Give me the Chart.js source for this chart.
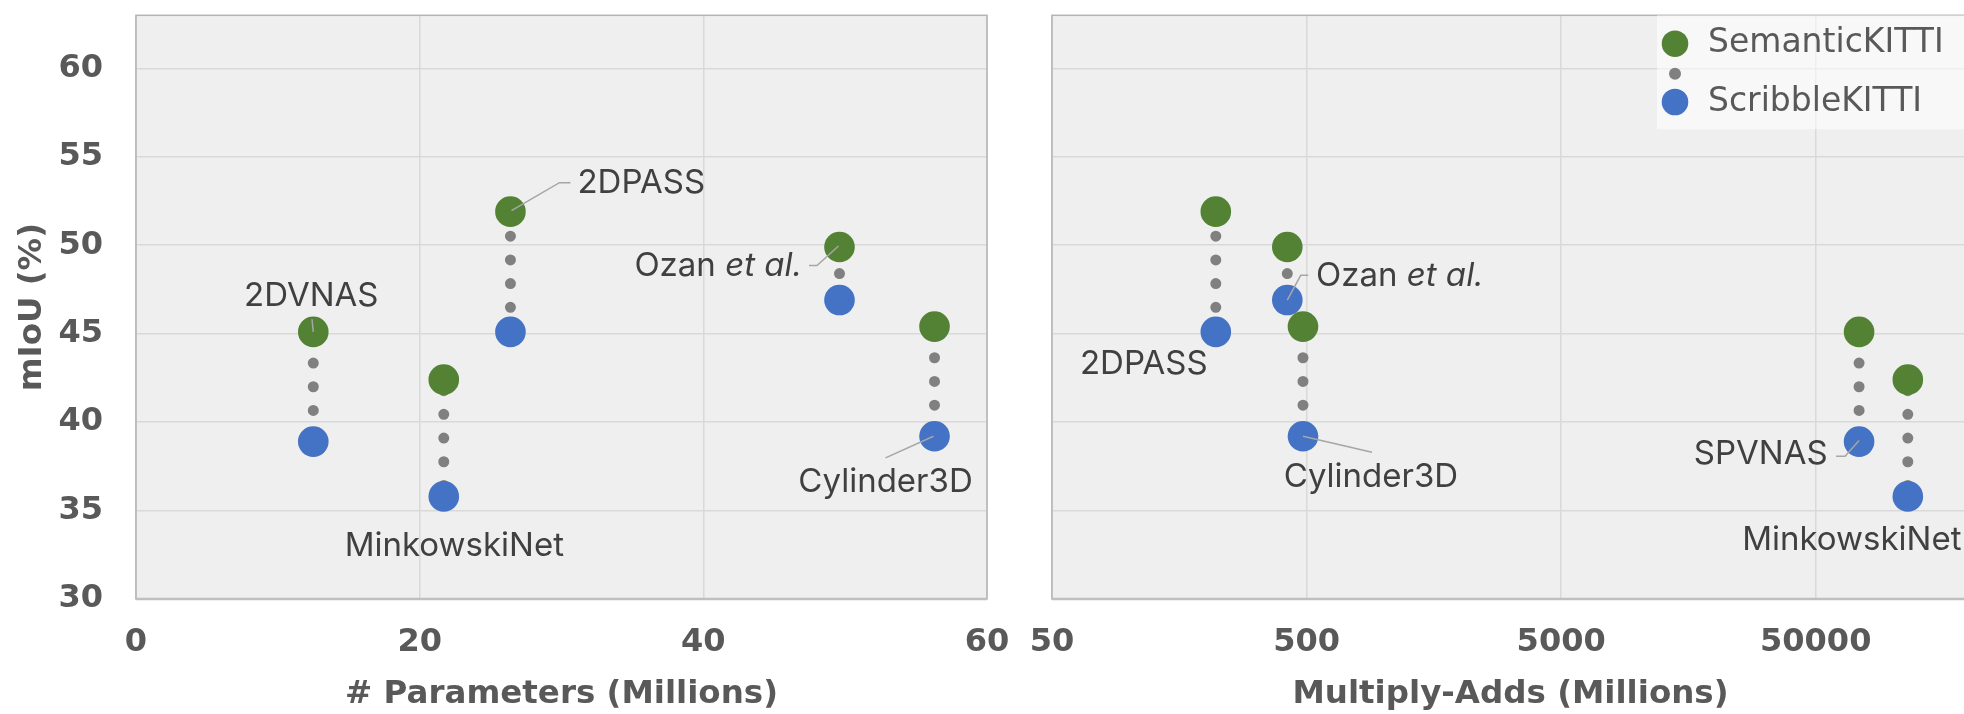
<!DOCTYPE html>
<html>
<head>
<meta charset="utf-8">
<script src="https://cdn.jsdelivr.net/npm/chart.js@4.4.1/dist/chart.umd.min.js"></script>
<style>
  html, body { margin: 0; padding: 0; background: #fff; overflow: hidden; }
  #paramsChart { position: absolute; left: 0; top: 0; }
  #macsChart { position: absolute; left: 1010px; top: 0; }
</style>
</head>
<body>
<canvas id="paramsChart" width="1010" height="714"></canvas>
<canvas id="macsChart" width="980" height="714"></canvas>
<script>
// values
const models = ['SPVNAS', 'MinkowskiNet', '2DPASS', 'Ozan et al.', 'Cylinder3D'];
const paramNames = ['2DVNAS', 'MinkowskiNet', '2DPASS', 'Ozan et al.', 'Cylinder3D'];
const params = [12.5, 21.7, 26.4, 49.6, 56.3];          // millions
const macs = [74000, 115000, 220, 420, 484];             // millions
const semanticMiou = [45.1, 42.4, 51.9, 49.9, 45.4];
const scribbleMiou = [38.9, 35.8, 45.1, 46.9, 39.2];
const paramTicks = [0, 20, 40, 60];
const macTicks = [50, 500, 5000, 50000];
const miouTicks = [30, 35, 40, 45, 50, 55, 60];

const GREEN = '#548235';
const BLUE = '#4472c4';
const DOT = '#808080';
const GREY_TEXT = '#595959';
const NOTE_TEXT = '#404040';
const GRID = '#d9d9d9';
const DOT_STEP = 23.7;

const tickFont = { family: 'DejaVu Sans', size: 32, weight: 'bold' };
const titleFont = { family: 'DejaVu Sans', size: 32.5, weight: 'bold' };

// spread the dots evenly between the two markers
function centreDots(ctx) {
  const y = ctx.chart.scales.y;
  const d = ctx.dataset.data;
  const span = Math.abs(y.getPixelForValue(d[1].y) - y.getPixelForValue(d[0].y));
  return -(span % DOT_STEP) / 2;
}

function buildDatasets(xs) {
  const sets = [
    { label: 'SemanticKITTI', data: xs.map((x, i) => ({ x: x, y: semanticMiou[i] })),
      backgroundColor: GREEN, pointRadius: 15.3, pointHoverRadius: 15.3, pointBorderWidth: 0, order: 0 },
    { label: 'ScribbleKITTI', data: xs.map((x, i) => ({ x: x, y: scribbleMiou[i] })),
      backgroundColor: BLUE, pointRadius: 15.3, pointHoverRadius: 15.3, pointBorderWidth: 0, order: 0 }
  ];
  xs.forEach((x, i) => {
    sets.push({
      label: models[i],
      data: [{ x: x, y: semanticMiou[i] }, { x: x, y: scribbleMiou[i] }],
      showLine: true,
      pointRadius: 0,
      borderColor: DOT,
      borderWidth: 11,
      borderCapStyle: 'round',
      borderDash: [0, DOT_STEP],
      borderDashOffset: centreDots,
      order: 1
    });
  });
  return sets;
}

const plotFrame = {
  id: 'plotFrame',
  beforeDraw(chart) {
    const { ctx, chartArea: a } = chart;
    ctx.save();
    ctx.fillStyle = '#efefef';
    ctx.fillRect(a.left, a.top, a.width, a.height);
    ctx.restore();
  },
  beforeDatasetsDraw(chart) {
    const { ctx, chartArea: a } = chart;
    ctx.save();
    ctx.strokeStyle = '#b4b4b4';
    ctx.lineWidth = 1.5;
    ctx.strokeRect(a.left, a.top, a.width, a.height);
    ctx.strokeStyle = '#bfbfbf';
    ctx.lineWidth = 2.5;
    ctx.beginPath();
    ctx.moveTo(a.left, a.bottom);
    ctx.lineTo(a.right, a.bottom);
    ctx.stroke();
    ctx.restore();
  }
};

function drawNoteText(ctx, text, x, y, align) {
  const parts = text.endsWith(' et al.') ? [[text.slice(0, -6), ''], ['et al.', 'italic ']] : [[text, '']];
  const size = 33;
  let total = 0;
  parts.forEach(p => { ctx.font = p[1] + size + 'px Inter'; total += ctx.measureText(p[0]).width; });
  let cx = align === 'left' ? x : align === 'right' ? x - total : x - total / 2;
  ctx.textAlign = 'left';
  ctx.textBaseline = 'middle';
  parts.forEach(p => {
    ctx.font = p[1] + size + 'px Inter';
    ctx.fillText(p[0], cx, y);
    cx += ctx.measureText(p[0]).width;
  });
}

const pointNotes = {
  id: 'pointNotes',
  afterDatasetsDraw(chart, args, opts) {
    const ctx = chart.ctx;
    ctx.save();
    opts.notes.forEach(n => {
      const pt = chart.getDatasetMeta(n.s).data[n.i];
      if (n.lead) {
        ctx.strokeStyle = '#a6a6a6';
        ctx.lineWidth = 1.5;
        ctx.beginPath();
        n.lead.forEach((p, k) => k ? ctx.lineTo(pt.x + p[0], pt.y + p[1]) : ctx.moveTo(pt.x + p[0], pt.y + p[1]));
        ctx.stroke();
      }
      ctx.fillStyle = NOTE_TEXT;
      drawNoteText(ctx, opts.names[n.i], pt.x + n.dx, pt.y + n.dy, n.align);
    });
    ctx.restore();
  }
};

const seriesKey = {
  id: 'seriesKey',
  afterDraw(chart) {
    const { ctx, chartArea: a } = chart;
    const bx = a.left + 605;
    const mx = a.left + 623;
    const tx = a.left + 656;
    ctx.save();
    ctx.fillStyle = 'rgba(255,255,255,0.55)';
    ctx.fillRect(bx, a.top, a.right - bx, 114);
    const rows = [
      [GREEN, 13.3, 28.4, chart.data.datasets[0].label],
      [DOT, 6, 58.4, null],
      [BLUE, 13.3, 86.7, chart.data.datasets[1].label]
    ];
    rows.forEach(r => {
      ctx.fillStyle = r[0];
      ctx.beginPath();
      ctx.arc(mx, a.top + r[2], r[1], 0, Math.PI * 2);
      ctx.fill();
      if (r[3]) {
        ctx.fillStyle = GREY_TEXT;
        ctx.font = '33px "DejaVu Sans"';
        ctx.textAlign = 'left';
        ctx.textBaseline = 'middle';
        ctx.fillText(r[3], tx, a.top + r[2]);
      }
    });
    ctx.restore();
  }
};

function fixedTicks(values) {
  return scale => { scale.ticks = values.map(v => ({ value: v })); };
}

function yAxis(width, showLabels) {
  return {
    min: 30,
    max: 63,
    afterBuildTicks: fixedTicks(miouTicks),
    afterFit: s => { s.width = width; s.paddingTop = 0; s.paddingBottom = 0; },
    grid: { color: GRID, lineWidth: 1.5, drawTicks: false },
    border: { display: false },
    ticks: { display: showLabels, font: tickFont, color: GREY_TEXT, padding: 33 },
    title: { display: showLabels, text: 'mIoU (%)', font: titleFont, color: GREY_TEXT, padding: { top: 12.7, bottom: 0 } }
  };
}

function xAxis(type, min, max, ticks, title) {
  return {
    type: type,
    min: min,
    max: max,
    afterBuildTicks: fixedTicks(ticks),
    afterFit: s => { s.height = 115; s.paddingLeft = 0; s.paddingRight = 0; },
    grid: { color: GRID, lineWidth: 1.5, drawTicks: false },
    border: { display: false },
    ticks: { font: tickFont, color: GREY_TEXT, padding: 24, maxRotation: 0, autoSkip: false,
             callback: v => String(v) },
    title: { display: true, text: title, font: titleFont, color: GREY_TEXT, padding: 0 }
  };
}

const paramsChart = new Chart(document.getElementById('paramsChart'), {
  type: 'scatter',
  data: { datasets: buildDatasets(params) },
  options: {
    responsive: false,
    animation: false,
    layout: { padding: { top: 12, right: 23, bottom: 0, left: 0 } },
    scales: {
      x: xAxis('linear', 0, 60, paramTicks, '# Parameters (Millions)'),
      y: yAxis(136, true)
    },
    plugins: {
      legend: { display: false },
      tooltip: { enabled: false },
      pointNotes: {
        names: paramNames,
        notes: [
          { i: 0, s: 0, dx: -2, dy: -36, align: 'center', lead: [[-1.3, -12.7], [0, 0]] },
          { i: 1, s: 1, dx: 10.5, dy: 50, align: 'center' },
          { i: 2, s: 0, dx: 67, dy: -29, align: 'left', lead: [[1, -1], [49, -29], [60, -29]] },
          { i: 3, s: 0, dx: -37.5, dy: 19.3, align: 'right', lead: [[-30.5, 18.6], [-22.5, 18.6], [-1, -1]] },
          { i: 4, s: 1, dx: -49, dy: 46, align: 'center', lead: [[-49, 21.6], [-1, 0]] }
        ]
      }
    }
  },
  plugins: [plotFrame, pointNotes]
});

const macsChart = new Chart(document.getElementById('macsChart'), {
  type: 'scatter',
  data: { datasets: buildDatasets(macs) },
  options: {
    responsive: false,
    animation: false,
    layout: { padding: { top: 12, right: 21, bottom: 0, left: 0 } },
    scales: {
      x: xAxis('logarithmic', 50, 200000, macTicks, 'Multiply-Adds (Millions)'),
      y: yAxis(42, false)
    },
    plugins: {
      legend: { display: false },
      tooltip: { enabled: false },
      pointNotes: {
        names: models,
        notes: [
          { i: 0, s: 1, dx: -31.5, dy: 13, align: 'right', lead: [[-23, 14.7], [-14, 14.7], [0, -1]] },
          { i: 1, s: 1, dx: -56, dy: 43.5, align: 'center' },
          { i: 2, s: 1, dx: -72, dy: 32.6, align: 'center' },
          { i: 3, s: 1, dx: 28.7, dy: -23.7, align: 'left', lead: [[0, 0], [13.4, -24.7], [21, -24.7]] },
          { i: 4, s: 1, dx: 68, dy: 41, align: 'center', lead: [[0, 0], [69, 16]] }
        ]
      }
    }
  },
  plugins: [plotFrame, pointNotes, seriesKey]
});
</script>
</body>
</html>
